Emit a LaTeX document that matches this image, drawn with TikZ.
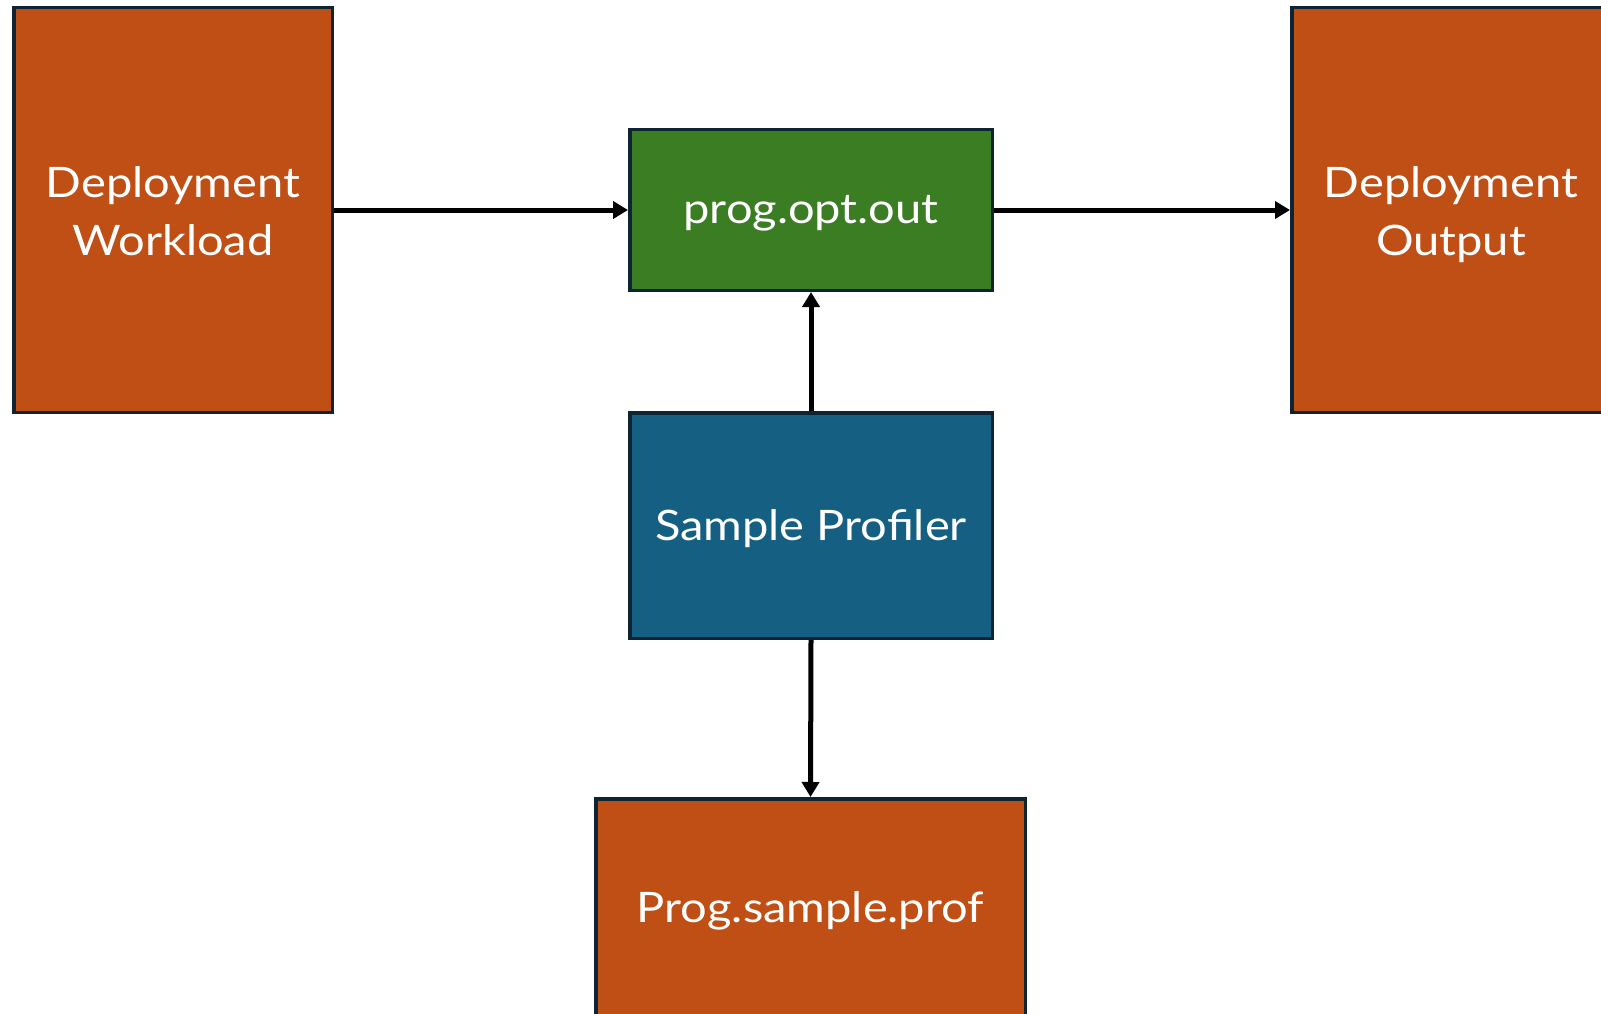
\documentclass[tikz,border=0pt]{standalone}
\usepackage{fontspec}
\setmainfont{Lato}[FakeStretch=1.12]
\usetikzlibrary{arrows.meta}
\definecolor{boxorange}{HTML}{C04F15}
\definecolor{boxgreen}{HTML}{3B7D23}
\definecolor{boxblue}{HTML}{156082}
\definecolor{boxline}{HTML}{0E2433}
\tikzset{
  block/.style={draw=boxline, line width=3.5pt, inner sep=0pt},
  caption/.style={text=white, inner sep=0pt, anchor=base,
    font=\fontsize{42}{58}\selectfont},
  flow/.style={line width=5pt, -{Triangle[length=15pt,width=17pt]}}
}
\begin{document}
\begin{tikzpicture}[x=1pt,y=-1pt]
\useasboundingbox (0,0) rectangle (1601,1014);
\begin{scope}
\clip (0,0) rectangle (1601,1014);
% boxes
\node[block, fill=boxorange, minimum width=318.5pt, minimum height=404.5pt] (work) at (173,210) {};
\node[block, fill=boxorange, minimum width=318.5pt, minimum height=404.5pt] (out) at (1451,210) {};
\node[block, fill=boxgreen, minimum width=362.5pt, minimum height=160.5pt] (opt) at (811,210) {};
\node[block, fill=boxblue, minimum width=362.5pt, minimum height=225.5pt] (prof) at (811,525.5) {};
\node[block, fill=boxorange, minimum width=429.5pt, minimum height=217.5pt] (samp) at (810.5,907.5) {};
% captions, placed by baseline
\node[caption] (work-a) at ([yshift=13pt]work.center) {Deployment};
\node[caption] (work-b) at ([yshift=-45pt]work.center) {Workload};
\node[caption] (out-a) at ([yshift=13pt]out.center) {Deployment};
\node[caption] (out-b) at ([yshift=-45pt]out.center) {Output};
\node[caption] (opt-t) at ([yshift=-13.5pt]opt.center) {prog.opt.out};
\node[caption] (prof-t) at ([yshift=-14.5pt]prof.center) {Sample Profiler};
\node[caption] (samp-t) at ([yshift=-15pt]samp.center) {Prog.sample.prof};
% connectors
\draw[flow] (work.east) -- (opt.west);
\draw[flow] (opt.east) -- (out.west);
\draw[flow] (prof.north) -- (opt.south);
\draw[flow] (prof.south) -- (samp.north);
\end{scope}
\end{tikzpicture}
\end{document}
